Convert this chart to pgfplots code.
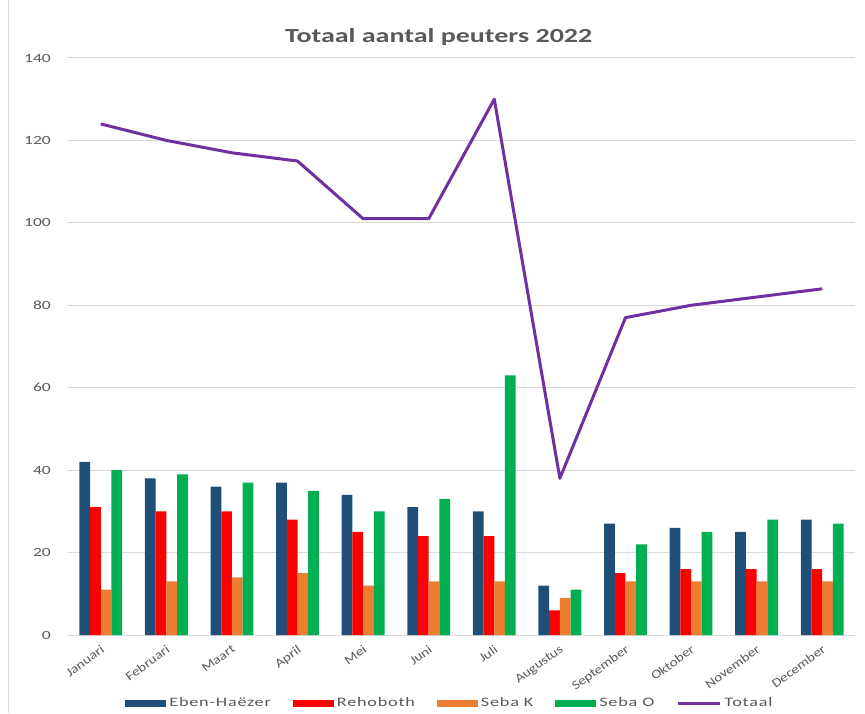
\documentclass[border=0pt]{standalone}
\usepackage{pgfplots}
\pgfplotsset{compat=1.18}
\usepackage{pgfplotstable}
\usepackage{fontspec}
\setmainfont[FakeStretch=1.4]{Carlito}
\newfontfamily\xfont[FakeStretch=1.2]{Carlito}
\newfontfamily\legfont[FakeStretch=1.4,LetterSpace=6]{Carlito}
\definecolor{ebhz}{HTML}{1F4E79}
\definecolor{reho}{HTML}{FF0000}
\definecolor{sebk}{HTML}{ED7D31}
\definecolor{sebo}{HTML}{00B050}
\definecolor{tot}{HTML}{7030A0}
\definecolor{txt}{HTML}{595959}
\definecolor{grd}{HTML}{D9D9D9}

\pgfplotstableread{
m  eh re sk so tot
0  42 31 11 40 124
1  38 30 13 39 120
2  36 30 14 37 117
3  37 28 15 35 115
4  34 25 12 30 101
5  31 24 13 33 101
6  30 24 13 63 130
7  12  6  9 11  38
8  27 15 13 22  77
9  26 16 13 25  80
10 25 16 13 28  82
11 28 16 13 27  84
}\peuters

\pgfplotsset{
  barleg/.style={legend image code/.code={\fill[#1] (0pt,-3.5pt) rectangle (41pt,3.5pt);}},
  mybar/.style={ybar, bar width=10.7pt, draw=none},
}

\begin{document}
\begin{tikzpicture}
\path[use as bounding box] (-68pt,-78pt) rectangle (797pt,635pt);
\draw[grd] (-60pt,-78pt) -- (-60pt,635pt);
\begin{axis}[
  at={(0,0)}, anchor=south west,
  scale only axis, width=787pt, height=577pt,
  xmin=-0.5, xmax=11.5, ymin=0, ymax=140,
  ytick={0,20,...,140},
  xtick={0,...,11},
  xticklabels={Januari,Februari,Maart,April,Mei,Juni,Juli,Augustus,September,Oktober,November,December},
  axis line style={draw=none},
  major tick length=0pt,
  ymajorgrids, grid style={grd, line width=1pt},
  /pgf/number format/assume math mode=true,
  yticklabel style={font=\fontsize{12.5}{15}\selectfont, text=txt, anchor=east, inner sep=0pt, xshift=-17pt},
  xticklabel style={font=\xfont\fontsize{12.5}{15}\selectfont, text=txt, rotate=36, anchor=north east, inner sep=0pt, yshift=-7pt, xshift=-6pt},
  title={Totaal aantal peuters 2022},
  title style={font=\bfseries\fontsize{20}{24}\selectfont, text=txt, at={(0.471,1)}, anchor=center, yshift=15pt},
  legend columns=5,
  legend style={at={(0.486,-0.118)}, anchor=center, draw=none, fill=none,
    font=\legfont\fontsize{13}{15}\selectfont, text=txt,
    nodes={inner sep=3pt},
    /tikz/every even column/.append style={column sep=19pt}},
]
\addplot[mybar, bar shift=-16.05pt, fill=ebhz, barleg=ebhz] table[x=m, y=eh] {\peuters};
\addlegendentry{Eben-Haëzer}
\addplot[mybar, bar shift=-5.35pt, fill=reho, barleg=reho] table[x=m, y=re] {\peuters};
\addlegendentry{Rehoboth}
\addplot[mybar, bar shift=5.35pt, fill=sebk, barleg=sebk] table[x=m, y=sk] {\peuters};
\addlegendentry{Seba K}
\addplot[mybar, bar shift=16.05pt, fill=sebo, barleg=sebo] table[x=m, y=so] {\peuters};
\addlegendentry{Seba O}
\addplot[tot, line width=3pt, line join=round, mark=none,
  legend image code/.code={\draw[tot, line width=3pt] (0pt,0pt) -- (42pt,0pt);}]
  table[x=m, y=tot] {\peuters};
\addlegendentry{Totaal}
\end{axis}
\end{tikzpicture}
\end{document}
